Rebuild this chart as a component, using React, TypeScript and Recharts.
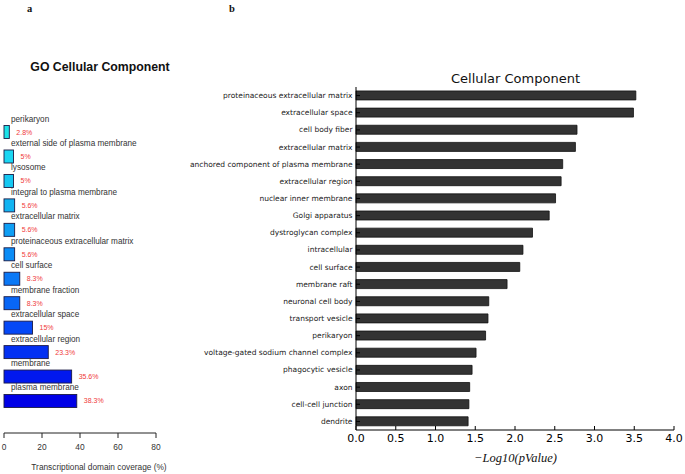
import React from 'react';
import { BarChart, Bar, XAxis, YAxis } from 'recharts';

// ---- Left panel data (GO Cellular Component) ----
const leftNames = [
  'perikaryon',
  'external side of plasma membrane',
  'lysosome',
  'integral to plasma membrane',
  'extracellular matrix',
  'proteinaceous extracellular matrix',
  'cell surface',
  'membrane fraction',
  'extracellular space',
  'extracellular region',
  'membrane',
  'plasma membrane',
];
const leftValues = [2.8, 5, 5, 5.6, 5.6, 5.6, 8.3, 8.3, 15, 23.3, 35.6, 38.3];
const leftColors = [
  '#1DE2E8', '#1AD6F2', '#16C8F2', '#12B4F2', '#0E9EF4', '#0B8CF6',
  '#0A78F6', '#0866F6', '#0548F6', '#0330F2', '#0118EE', '#0000E6',
];
const leftTicks = [0, 20, 40, 60, 80];

// ---- Right panel data (Cellular Component, -log10 p) ----
const rightNames = [
  'proteinaceous extracellular matrix',
  'extracellular space',
  'cell body fiber',
  'extracellular matrix',
  'anchored component of plasma membrane',
  'extracellular region',
  'nuclear inner membrane',
  'Golgi apparatus',
  'dystroglycan complex',
  'intracellular',
  'cell surface',
  'membrane raft',
  'neuronal cell body',
  'transport vesicle',
  'perikaryon',
  'voltage-gated sodium channel complex',
  'phagocytic vesicle',
  'axon',
  'cell-cell junction',
  'dendrite',
];
const rightValues = [
  3.52, 3.49, 2.78, 2.76, 2.6, 2.58, 2.51, 2.43, 2.22, 2.1,
  2.06, 1.9, 1.67, 1.66, 1.63, 1.51, 1.46, 1.43, 1.42, 1.41,
];
const rightTicks = [0, 0.5, 1, 1.5, 2, 2.5, 3, 3.5, 4];

const leftData = leftNames.map((name, i) => ({ name, value: leftValues[i] }));
const rightData = rightNames.map((name, i) => ({ name, value: rightValues[i] }));

const SANS = '"Liberation Sans", Arial, sans-serif';
const DV = '"DejaVu Sans", sans-serif';

const LeftBarShape = (props: any) => {
  const { x, y, width, height, index } = props;
  const name = props.payload?.name ?? leftNames[index];
  const v = props.payload?.value ?? leftValues[index];
  return (
    <g>
      <rect x={x} y={y} width={width} height={height} fill={leftColors[index]} stroke="#1b1b45" strokeWidth={0.9} />
      <text x={x + 7} y={y - 4} fontSize={8.2} fill="#333" fontFamily={SANS}>{name}</text>
      <text x={x + width + 7} y={y + height / 2} dominantBaseline="central" fontSize={7} fill="#f03a3a" fontFamily={SANS}>
        {v}%
      </text>
    </g>
  );
};

const RightYTick = (props: any) => {
  const { x, y, payload } = props;
  return (
    <text x={x} y={y} textAnchor="end" dominantBaseline="central" fontSize={7.5} fill="#222" fontFamily={DV}>
      {payload?.value}
    </text>
  );
};

export default function App() {
  return (
    <div style={{ position: 'absolute', left: 0, top: 0, width: 685, height: 474, overflow: 'hidden', background: '#fff' }}>
      <div style={{ position: 'absolute', left: 0, top: 0 }}>
        <BarChart
          width={180}
          height={474}
          data={leftData}
          layout="vertical"
          margin={{ top: 119.8, right: 24, bottom: 0, left: 4 }}
          barCategoryGap="23.5%"
        >
          <XAxis
            type="number"
            domain={[0, 80]}
            ticks={leftTicks}
            interval={0}
            height={41}
            tickSize={5}
            tickMargin={6}
            axisLine={{ stroke: '#222', strokeWidth: 1 }}
            tickLine={{ stroke: '#222', strokeWidth: 1 }}
            tick={{ fontSize: 8.4, fill: '#333', fontFamily: SANS }}
          />
          <YAxis type="category" dataKey="name" hide padding={{ top: 0, bottom: 19.8 }} width={0} />
          <Bar dataKey="value" isAnimationActive={false} shape={LeftBarShape} />
        </BarChart>
      </div>

      <div style={{ position: 'absolute', left: 180, top: 0 }}>
        <BarChart
          width={505}
          height={474}
          data={rightData}
          layout="vertical"
          margin={{ top: 87, right: 11, bottom: 0, left: 0 }}
          barCategoryGap="23%"
        >
          <XAxis
            type="number"
            domain={[0, 4]}
            ticks={rightTicks}
            interval={0}
            height={44}
            tickSize={-4}
            tickMargin={8.5}
            tickFormatter={(v: number) => v.toFixed(1)}
            axisLine={{ stroke: '#000', strokeWidth: 1 }}
            tickLine={{ stroke: '#000', strokeWidth: 1 }}
            tick={{ fontSize: 11, fill: '#000', fontFamily: DV }}
          />
          <YAxis
            type="category"
            dataKey="name"
            width={176}
            interval={0}
            tickSize={-4}
            tickMargin={7.5}
            axisLine={{ stroke: '#000', strokeWidth: 1 }}
            tickLine={{ stroke: '#000', strokeWidth: 1 }}
            tick={RightYTick}
          />
          <Bar dataKey="value" fill="#333333" stroke="#111" strokeWidth={0.8} isAnimationActive={false} />
        </BarChart>
      </div>

      <svg width={685} height={474} style={{ position: 'absolute', left: 0, top: 0, pointerEvents: 'none' }}>
        <text x={27} y={12} fontSize={10.5} fontWeight="bold" fontFamily='"Liberation Serif", serif' fill="#111">a</text>
        <text x={229} y={12} fontSize={10.5} fontWeight="bold" fontFamily='"Liberation Serif", serif' fill="#111">b</text>
        <text x={100} y={70.5} textAnchor="middle" fontSize={12.3} fontWeight="bold" fontFamily={SANS} fill="#111">
          GO Cellular Component
        </text>
        <text x={99} y={470} textAnchor="middle" fontSize={8.3} fontFamily={SANS} fill="#333">
          Transcriptional domain coverage (%)
        </text>
        <text x={515.5} y={82.7} textAnchor="middle" fontSize={13} fontFamily={DV} fill="#111">
          Cellular Component
        </text>
        <text x={515.5} y={461.5} textAnchor="middle" fontSize={12.5} fontStyle="italic" fontFamily='"Liberation Serif", serif' fill="#111">
          −Log10(pValue)
        </text>
      </svg>
    </div>
  );
}
